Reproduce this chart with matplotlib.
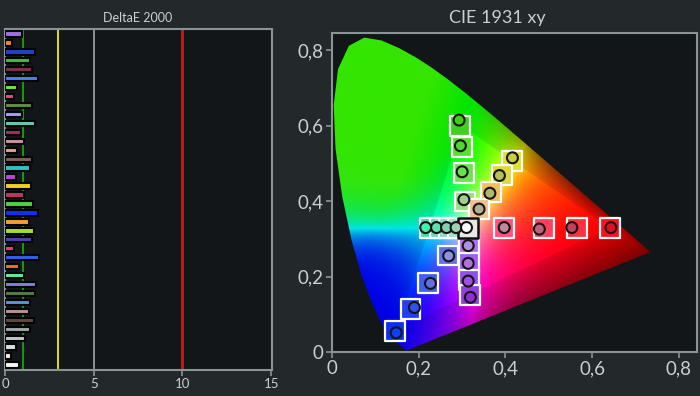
import numpy as np
import matplotlib
matplotlib.use("Agg")
import matplotlib.pyplot as plt
from matplotlib.patches import Polygon
from matplotlib.ticker import FuncFormatter

plt.rcParams['font.family'] = ['Lato', 'DejaVu Sans']

# ---- DeltaE 2000 bars (top to bottom)
de_values = [0.95, 0.38, 1.71, 1.43, 1.52, 1.84, 0.70, 0.51, 1.52, 0.95,
             1.71, 0.89, 1.05, 0.67, 1.52, 1.43, 0.63, 1.48, 1.05, 1.58,
             1.86, 1.37, 1.62, 1.52, 0.51, 1.94, 0.80, 1.05, 1.77, 1.71,
             1.43, 1.37, 1.65, 1.43, 1.14, 0.63, 0.34, 0.80]
de_colors = ['#a070e0', '#f08040', '#2040c8', '#40c030', '#803048', '#5080f0',
             '#60f040', '#e05070', '#609040', '#a0a0f0', '#60d0b0', '#a03060',
             '#d090a0', '#e0a090', '#806050', '#30c0c0', '#c040e0', '#f0d020',
             '#c83060', '#50d040', '#1030f0', '#f0a030', '#a0e030', '#5040b0',
             '#e04080', '#3060f0', '#f07020', '#60f0a0', '#8080e0', '#508040',
             '#6090d0', '#c09090', '#604840', '#a0a8a8', '#c0c8c8', '#d8e0e0',
             '#f0f0f0', '#f4f4f4']
de_ticks = [0, 5, 10, 15]
de_limits = [1, 3, 5, 10]
de_limit_colors = ['#1a9a10', '#e0e000', '#8a9494', '#c02020']

# ---- CIE 1931 spectral locus (380-700 nm)
locus_x = [0.1741, 0.1740, 0.1738, 0.1736, 0.1733, 0.1730, 0.1726, 0.1721,
           0.1714, 0.1703, 0.1689, 0.1669, 0.1644, 0.1611, 0.1566, 0.1510,
           0.1440, 0.1355, 0.1241, 0.1096, 0.0913, 0.0687, 0.0454, 0.0235,
           0.0082, 0.0039, 0.0139, 0.0389, 0.0743, 0.1142, 0.1547, 0.1929,
           0.2296, 0.2658, 0.3016, 0.3373, 0.3731, 0.4087, 0.4441, 0.4788,
           0.5125, 0.5448, 0.5752, 0.6029, 0.6270, 0.6482, 0.6658, 0.6801,
           0.6915, 0.7006, 0.7079, 0.7140, 0.7190, 0.7230, 0.7260, 0.7283,
           0.7300, 0.7311, 0.7320, 0.7334, 0.7347]
locus_y = [0.0050, 0.0050, 0.0049, 0.0049, 0.0048, 0.0048, 0.0048, 0.0048,
           0.0051, 0.0058, 0.0069, 0.0086, 0.0109, 0.0138, 0.0177, 0.0227,
           0.0297, 0.0399, 0.0578, 0.0868, 0.1327, 0.2007, 0.2950, 0.4127,
           0.5384, 0.6548, 0.7502, 0.8120, 0.8338, 0.8262, 0.8059, 0.7816,
           0.7543, 0.7243, 0.6923, 0.6589, 0.6245, 0.5896, 0.5547, 0.5202,
           0.4866, 0.4544, 0.4242, 0.3965, 0.3725, 0.3514, 0.3340, 0.3197,
           0.3083, 0.2993, 0.2920, 0.2859, 0.2809, 0.2770, 0.2740, 0.2717,
           0.2700, 0.2689, 0.2680, 0.2666, 0.2653]

# Rec.709 gamut primaries R, G, B
gamut_x = [0.64, 0.30, 0.15]
gamut_y = [0.33, 0.60, 0.06]

# targets (squares) and measurements (circles)
target_x = [0.296, 0.300, 0.304, 0.306,
            0.416, 0.392, 0.366, 0.339,
            0.640, 0.565, 0.488, 0.396,
            0.316, 0.316, 0.316, 0.319,
            0.145, 0.181, 0.222, 0.267,
            0.225, 0.248, 0.270, 0.291]
target_y = [0.600, 0.543, 0.475, 0.399,
            0.506, 0.469, 0.424, 0.380,
            0.330, 0.330, 0.330, 0.330,
            0.284, 0.235, 0.191, 0.151,
            0.055, 0.114, 0.184, 0.256,
            0.329, 0.329, 0.329, 0.329]
target_colors = ['#40d020', '#58e030', '#70e050', '#98e080',
                 '#e0e030', '#e0d840', '#f0c060', '#f0c090',
                 '#ff1020', '#ff3040', '#ff4060', '#ff5080',
                 '#b070f0', '#a060f0', '#9050f0', '#9040e0',
                 '#1030f0', '#2040f0', '#4060f0', '#6070f0',
                 '#40e0a0', '#60e0b0', '#80e0c0', '#a0e0c8']
meas_x = [0.293, 0.296, 0.300, 0.304,
          0.416, 0.386, 0.364, 0.339,
          0.643, 0.553, 0.478, 0.397,
          0.314, 0.314, 0.314, 0.319,
          0.148, 0.190, 0.227, 0.269,
          0.216, 0.241, 0.264, 0.286]
meas_y = [0.615, 0.547, 0.478, 0.404,
          0.515, 0.468, 0.421, 0.379,
          0.330, 0.330, 0.326, 0.330,
          0.282, 0.235, 0.188, 0.145,
          0.051, 0.118, 0.182, 0.255,
          0.330, 0.330, 0.330, 0.330]
meas_colors = ['#40d010', '#50d830', '#68e050', '#a0d090',
               '#c8d040', '#b8c050', '#b0b870', '#b0b090',
               '#e01020', '#c84058', '#c06078', '#c08898',
               '#b090e0', '#b070e0', '#a050e0', '#9030d0',
               '#1040ff', '#3050f0', '#6070e0', '#9090e0',
               '#40f0b0', '#60e0b0', '#80d0b0', '#a0d0b0']
white_target = (0.3127, 0.329)
white_meas = (0.310, 0.331)

bg = '#23292b'
face = '#131618'
spine = '#8a9494'
txt = '#c8d0d0'

fig = plt.figure(figsize=(7, 3.96), dpi=100, facecolor=bg)

# ---------------- left: DeltaE bars
ax1 = fig.add_axes([5 / 700, 1 - 370 / 396, 267 / 700, 341 / 396], facecolor=face)
ypos = np.arange(len(de_values))
ax1.barh(ypos, de_values, height=0.6, color=de_colors, edgecolor='#050505',
         linewidth=1.5, zorder=3)
for v, c in zip(de_limits, de_limit_colors):
    ax1.axvline(v, color=c, lw=2 if v == 10 else 1.4, zorder=2)
ax1.set_xlim(0, 15.05)
ax1.set_ylim(len(de_values) - 0.45, -0.55)
ax1.set_yticks([])
ax1.set_xticks(de_ticks)
ax1.tick_params(axis='x', colors=spine, labelcolor=txt, labelsize=9.5,
                length=4, width=1.2, pad=2)
for s in ax1.spines.values():
    s.set_color(spine)
    s.set_linewidth(1.5)
fig.text(138 / 700, 1 - 18 / 396, 'DeltaE 2000', color=txt, fontsize=9,
         ha='center', va='center')

# ---------------- right: CIE 1931 xy
ax2 = fig.add_axes([332 / 700, 1 - 352 / 396, 365 / 700, 319 / 396], facecolor=face)

# background colour of the diagram: xy -> linear sRGB, clipped, normalised
gx, gy = np.meshgrid(np.linspace(0.0005, 0.85, 500), np.linspace(0.0005, 0.85, 500))
X = gx / gy
Z = (1 - gx - gy) / gy
M = np.array([[3.2406, -1.5372, -0.4986],
              [-0.9689, 1.8758, 0.0415],
              [0.0557, -0.2040, 1.0570]])
rgb = np.stack([M[i, 0] * X + M[i, 1] + M[i, 2] * Z for i in range(3)], axis=-1)
rgb = np.clip(rgb, 0, None)
rgb = rgb / np.maximum(rgb.max(axis=-1, keepdims=True), 1e-9)


def edge_dist(p, q, inside):
    # signed distance from line p-q, positive on the side away from `inside`
    dx, dy = q[0] - p[0], q[1] - p[1]
    n = np.array([dy, -dx]) / np.hypot(dx, dy)
    if (inside[0] - p[0]) * n[0] + (inside[1] - p[1]) * n[1] > 0:
        n = -n
    return (gx - p[0]) * n[0] + (gy - p[1]) * n[1]


R = (gamut_x[0], gamut_y[0])
G = (gamut_x[1], gamut_y[1])
B = (gamut_x[2], gamut_y[2])
d_gb = np.clip(edge_dist(G, B, R), 0, None)
d_rg = np.clip(edge_dist(R, G, B), 0, None)
d_rb = np.clip(edge_dist(R, B, G), 0, None)
outside = (d_gb > 0) | (d_rg > 0) | (d_rb > 0)

# sharper hues outside the gamut triangle
power = np.where(outside, 1.25 + 25 * np.minimum(d_gb, 0.12), 1.25)
rgb = rgb ** power[..., None]

w_rg = np.clip((gx - 0.33) / 0.25, 0, 1)
w_rb = np.clip((gx - 0.22) / 0.2, 0, 1)
f = (1 - 12 * d_rg * w_rg) * (1 - 4.5 * d_rb * w_rb)
f = np.clip(f, 0.42, 1)
f[outside] *= 0.9
rgb = rgb * f[..., None]
# slight warm tint in the outer green area, fading out towards the cyan band
tint = np.clip(d_gb * 2, 0, 0.2) * np.clip((gy - 0.33) / 0.12, 0, 1)
rgb[..., 0] = np.maximum(rgb[..., 0], tint)

im = ax2.imshow(rgb, origin='lower', extent=[0.0005, 0.85, 0.0005, 0.85],
                interpolation='bilinear', zorder=1, aspect='auto')
horseshoe = Polygon(np.column_stack([locus_x, locus_y]), closed=True,
                    transform=ax2.transData)
im.set_clip_path(horseshoe)

ax2.scatter(target_x, target_y, s=205, marker='s', c=target_colors,
            edgecolors='white', linewidths=1.6, zorder=3)
ax2.scatter([white_target[0]], [white_target[1]], s=205, marker='s', c='#e8e8e8',
            edgecolors='#101010', linewidths=1.8, zorder=3)
ax2.scatter(meas_x, meas_y, s=62, marker='o', c=meas_colors,
            edgecolors='#151515', linewidths=1.5, zorder=4)
ax2.scatter([white_meas[0]], [white_meas[1]], s=62, marker='o', c='white',
            edgecolors='#151515', linewidths=1.5, zorder=4)

ax2.set_xlim(0, 0.8415)
ax2.set_ylim(0, 0.846)
ticks = [0, 0.2, 0.4, 0.6, 0.8]
ax2.set_xticks(ticks)
ax2.set_yticks(ticks)
fmt = FuncFormatter(lambda v, p: '0' if v == 0 else ('%.1f' % v).replace('.', ','))
ax2.xaxis.set_major_formatter(fmt)
ax2.yaxis.set_major_formatter(fmt)
ax2.tick_params(colors=spine, labelcolor=txt, labelsize=13.5, length=4,
                width=1.2, pad=2)
for s in ax2.spines.values():
    s.set_color(spine)
    s.set_linewidth(1.5)
fig.text(497 / 700, 1 - 18 / 396, 'CIE 1931 xy', color=txt, fontsize=13,
         ha='center', va='center')

fig.savefig('out.png', dpi=100, facecolor=bg)
